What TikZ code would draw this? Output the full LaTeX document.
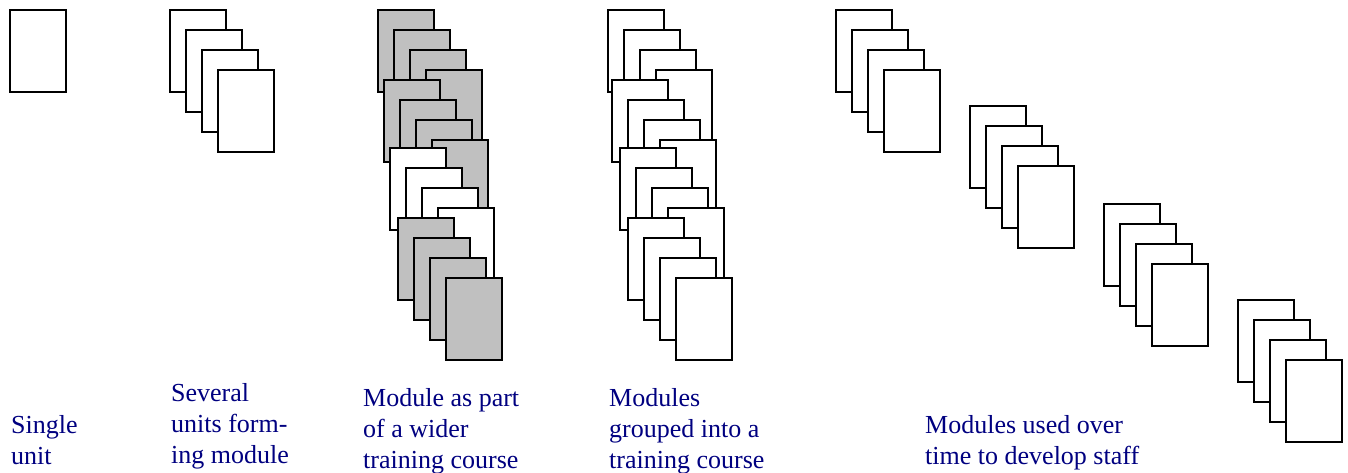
\documentclass[tikz,border=0pt]{standalone}
\usepackage{fontspec}
\setmainfont{Liberation Serif}
\definecolor{labelblue}{RGB}{0,0,128}
\definecolor{cardgray}{RGB}{192,192,192}
\tikzset{
  card/.style={draw=black, line width=2pt, rectangle, anchor=north west, inner sep=0pt,
    minimum width=56pt, minimum height=82pt},
  caption/.style={anchor=base west, inner sep=0pt, align=left, text=labelblue,
    font=\fontsize{26}{31}\selectfont},
}
\newcommand\cardstack[4]{%
  \foreach \i in {0,...,3}{\node[card, fill=#4] (#1-\i) at ({#2+16*\i},{#3+20*\i}) {};}%
}
\begin{document}
\begin{tikzpicture}[x=1pt,y=-1pt]
\useasboundingbox (0,0) rectangle (1348,472);
% single unit
\node[card, fill=white] (single) at (9,9) {};
% module
\cardstack{m}{169}{9}{white}
% module as part of wider course
\cardstack{wa}{377}{9}{cardgray}
\cardstack{wb}{383}{79}{cardgray}
\cardstack{wc}{389}{147}{white}
\cardstack{wd}{397}{217}{cardgray}
% modules grouped into course
\cardstack{ga}{607}{9}{white}
\cardstack{gb}{611}{79}{white}
\cardstack{gc}{619}{147}{white}
\cardstack{gd}{627}{217}{white}
% modules over time
\cardstack{ta}{835}{9}{white}
\cardstack{tb}{969}{105}{white}
\cardstack{tc}{1103}{203}{white}
\cardstack{td}{1237}{299}{white}
% captions (anchor at baseline of last line)
\node[caption] (l1) at (11,464) {Single\\unit};
\node[caption] (l2) at (171,463) {Several\\units form-\\ing module};
\node[caption] (l3) at (363,468) {Module as part\\of a wider\\training course};
\node[caption] (l4) at (609,468) {Modules\\grouped into a\\training course};
\node[caption] (l5) at (925,464) {Modules used over\\time to develop staff};
\end{tikzpicture}
\end{document}
